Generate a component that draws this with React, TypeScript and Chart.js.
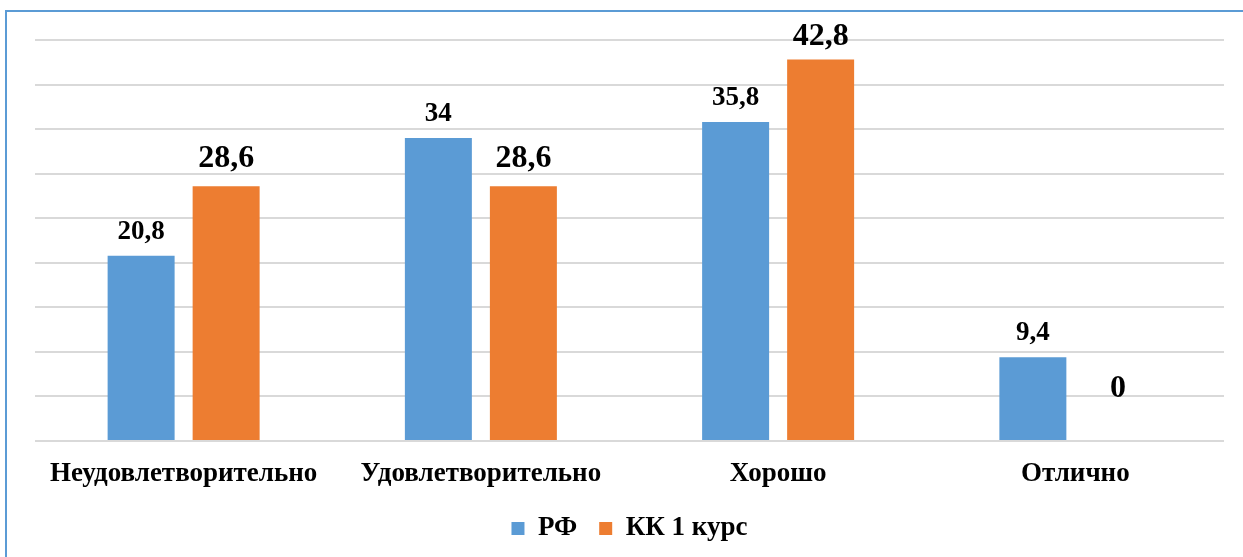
import React, { useEffect, useRef } from "react";
import { Chart, registerables } from "chart.js";

Chart.register(...registerables);

const categories = ["Неудовлетворительно", "Удовлетворительно", "Хорошо", "Отлично"];
const seriesNames = ["РФ", "КК 1 курс"];
const rfValues = [20.8, 34, 35.8, 9.4];
const kkValues = [28.6, 28.6, 42.8, 0];
const seriesColors = ["#5B9BD5", "#ED7D31"];
const yMax = 45;
const yStep = 5;

const FONT = '"Liberation Serif", "Times New Roman", serif';

const labelPlugin = {
  id: "barLabels",
  afterDatasetsDraw(chart: any) {
    const ctx = chart.ctx;
    chart.data.datasets.forEach((ds: any, i: number) => {
      const meta = chart.getDatasetMeta(i);
      const size = i === 0 ? 27 : 32;
      const gap = i === 0 ? 17 : 19;
      ctx.save();
      ctx.font = `bold ${size}px ${FONT}`;
      ctx.fillStyle = "#000";
      ctx.textAlign = "center";
      ctx.textBaseline = "alphabetic";
      meta.data.forEach((el: any, j: number) => {
        const v = ds.data[j];
        const { x, y } = el.getProps(["x", "y"], true);
        let by = v === 0 ? y - 44 : y - gap;
        by = Math.max(by, chart.chartArea.top + 5);
        ctx.fillText(String(v).replace(".", ","), x, by);
      });
      ctx.restore();
    });
  },
};

export default function App() {
  const ref = useRef<HTMLCanvasElement | null>(null);

  useEffect(() => {
    if (!ref.current) return;
    const chart = new Chart(ref.current, {
      type: "bar",
      data: {
        labels: categories,
        datasets: [
          {
            label: seriesNames[0],
            data: rfValues,
            backgroundColor: seriesColors[0],
            barPercentage: 0.788,
            categoryPercentage: 0.572,
          },
          {
            label: seriesNames[1],
            data: kkValues,
            backgroundColor: seriesColors[1],
            barPercentage: 0.788,
            categoryPercentage: 0.572,
          },
        ],
      },
      options: {
        responsive: false,
        animation: false,
        devicePixelRatio: 1,
        layout: { padding: { left: 35, right: 19, top: 40, bottom: 5 } },
        scales: {
          x: {
            grid: { display: false, drawTicks: false },
            border: { display: false },
            ticks: {
              color: "#000",
              padding: 17,
              font: { family: FONT, size: 27, weight: "bold" },
              maxRotation: 0,
              autoSkip: false,
            },
            afterFit(scale: any) {
              scale.height = 52;
            },
          },
          y: {
            min: 0,
            max: yMax,
            ticks: { display: false, stepSize: yStep },
            grid: { color: "#d9d9d9", lineWidth: 2, drawTicks: false },
            border: { display: false },
          },
        },
        plugins: {
          legend: {
            position: "bottom",
            labels: {
              boxWidth: 13,
              boxHeight: 13,
              padding: 22,
              color: "#000",
              font: { family: FONT, size: 27, weight: "bold" },
            },
          },
          tooltip: { enabled: false },
        },
      },
      plugins: [labelPlugin],
    } as any);
    return () => chart.destroy();
  }, []);

  return (
    <div style={{ position: "fixed", left: 0, top: 0, width: 1243, height: 557, background: "#fff", overflow: "hidden" }}>
      <div
        style={{
          position: "absolute",
          left: 5,
          top: 10,
          width: 1400,
          height: 700,
          borderLeft: "2px solid #5B9BD5",
          borderTop: "2px solid #5B9BD5",
        }}
      />
      <canvas ref={ref} width={1243} height={557} style={{ position: "absolute", left: 0, top: 0 }} />
    </div>
  );
}
